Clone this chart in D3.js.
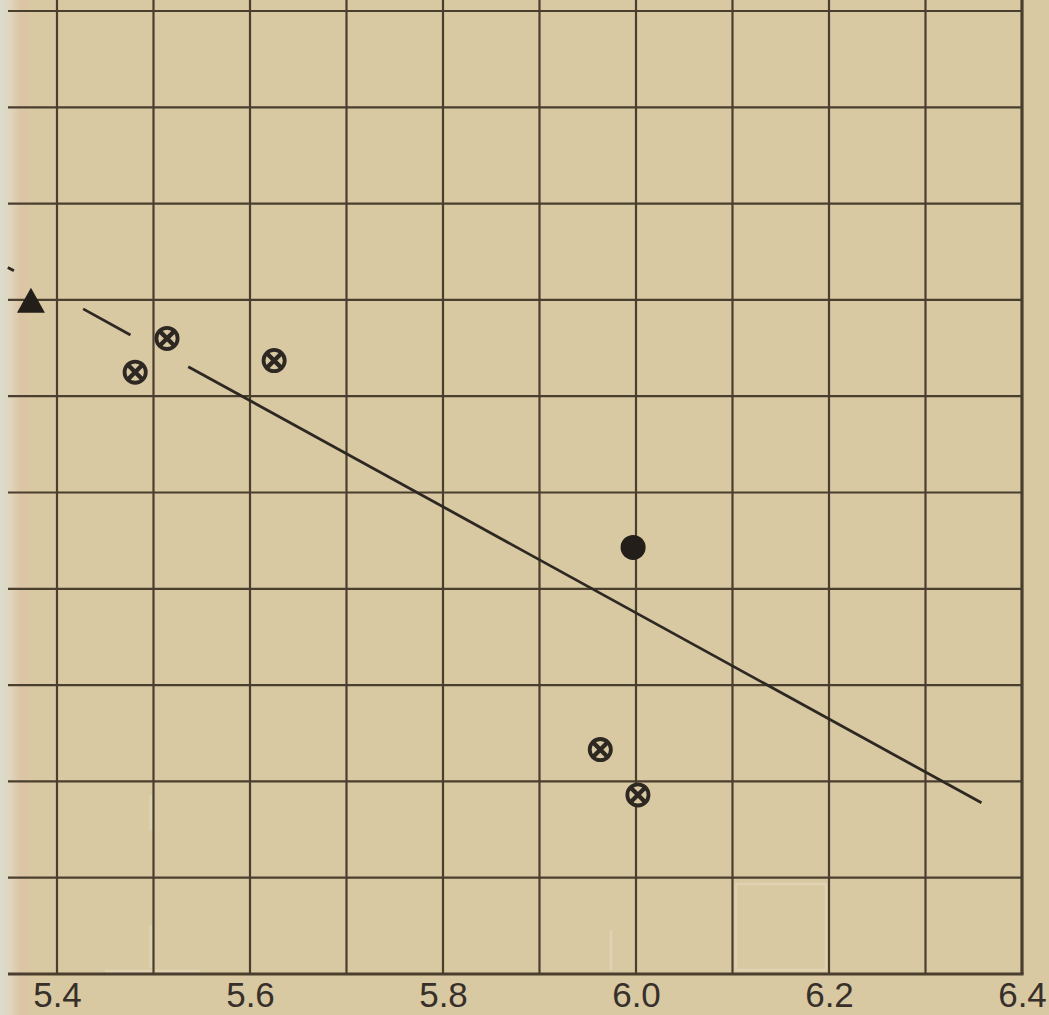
<!DOCTYPE html>
<html>
<head>
<meta charset="utf-8">
<script src="https://cdn.jsdelivr.net/npm/d3@7"></script>
<style>
  html, body { margin: 0; padding: 0; background: #d9c9a3; }
  svg { display: block; }
</style>
</head>
<body>
<svg id="chart" width="1049" height="1015"></svg>
<script>
// x-axis tick labels and grid steps
const xTickLabels = ["5.4", "5.6", "5.8", "6.0", "6.2", "6.4"];
const xGridValues = d3.range(0, 11).map(i => +(5.4 + i * 0.1).toFixed(1));
const yGridValues = d3.range(0, 11);

// observations: crossed circles, a filled circle, and a triangle
const crossedPoints = [
  { x: 5.481, y: 6.25 },
  { x: 5.514, y: 6.60 },
  { x: 5.625, y: 6.37 },
  { x: 5.963, y: 2.33 },
  { x: 6.002, y: 1.86 }
];
const filledPoints = [
  { x: 5.997, y: 4.43 }
];
const trianglePoints = [
  { x: 5.373, y: 6.98 }
];

// fitted line y = intercept + slope * x
const fitIntercept = 36.81;
const fitSlope = -5.51;
const fitSolidRange = [5.536, 6.358];
const fitDashedRange = [5.349, 5.536];

const svg = d3.select("#chart");
const W = 1049, H = 1015;

const x = d3.scaleLinear().domain([5.4, 6.4]).range([57, 1022]);
const y = d3.scaleLinear().domain([0, 10]).range([974, 11]);

const paper = "#d9c9a3";
const ink = "#4a3e2f";
const dark = "#2e2822";

// paper edge on the left
const defs = svg.append("defs");
const edge = defs.append("linearGradient").attr("id", "edge")
  .attr("x1", 0).attr("x2", 1).attr("y1", 0).attr("y2", 0);
edge.append("stop").attr("offset", "0%").attr("stop-color", "#dcdccf");
edge.append("stop").attr("offset", "30%").attr("stop-color", "#dfd6bd");
edge.append("stop").attr("offset", "60%").attr("stop-color", "#dcc4a4");
edge.append("stop").attr("offset", "100%").attr("stop-color", paper);

svg.append("rect").attr("width", W).attr("height", H).attr("fill", paper);
svg.append("rect").attr("x", 0).attr("y", 0).attr("width", 34).attr("height", H)
  .attr("fill", "url(#edge)");

// faint show-through from the reverse side of the sheet
const ghost = svg.append("g").attr("stroke", "#e6dbbd").attr("fill", "none")
  .attr("stroke-width", 3).attr("opacity", 0.55);
ghost.append("line").attr("x1", 151).attr("x2", 151).attr("y1", 795).attr("y2", 830);
ghost.append("line").attr("x1", 151).attr("x2", 151).attr("y1", 925).attr("y2", 968);
ghost.append("line").attr("x1", 105).attr("x2", 200).attr("y1", 971).attr("y2", 971);
ghost.append("line").attr("x1", 611).attr("x2", 611).attr("y1", 930).attr("y2", 970);
ghost.append("rect").attr("x", 736).attr("y", 884).attr("width", 90).attr("height", 86)
  .attr("stroke-width", 2.5);

// grid
const grid = svg.append("g").attr("stroke", ink).attr("stroke-width", 2.2);
grid.selectAll("line.v").data(xGridValues.slice(0, -1)).join("line")
  .attr("class", "v")
  .attr("x1", d => x(d)).attr("x2", d => x(d))
  .attr("y1", 0).attr("y2", y(0));
grid.selectAll("line.h").data(yGridValues.slice(1)).join("line")
  .attr("class", "h")
  .attr("x1", 8).attr("x2", x(6.4))
  .attr("y1", d => y(d)).attr("y2", d => y(d));

// frame: bottom axis and right edge
svg.append("line").attr("x1", 8).attr("x2", x(6.4) + 1.6)
  .attr("y1", y(0)).attr("y2", y(0))
  .attr("stroke", ink).attr("stroke-width", 2.8);
svg.append("line").attr("x1", x(6.4)).attr("x2", x(6.4))
  .attr("y1", 0).attr("y2", y(0))
  .attr("stroke", ink).attr("stroke-width", 3.2);

// x tick labels
const xAxis = d3.axisBottom(x)
  .tickValues(xTickLabels.map(Number))
  .tickFormat((d, i) => xTickLabels[i])
  .tickSize(0)
  .tickPadding(0);
const axisG = svg.append("g").attr("transform", `translate(0, ${y(0)})`).call(xAxis);
axisG.select(".domain").remove();
axisG.attr("font-family", null).attr("font-size", null);
axisG.selectAll("text")
  .attr("dy", null)
  .attr("y", 33)
  .attr("font-family", "'Liberation Sans', Arial, sans-serif")
  .attr("font-size", 35)
  .attr("fill", "#37302a");

// fitted line
const fit = v => fitIntercept + fitSlope * v;
const lineGen = d3.line().x(d => x(d)).y(d => y(fit(d)));
svg.append("path").datum(fitSolidRange)
  .attr("d", lineGen).attr("fill", "none")
  .attr("stroke", dark).attr("stroke-width", 2.8);
svg.append("path").datum(fitDashedRange)
  .attr("d", lineGen).attr("fill", "none")
  .attr("stroke", dark).attr("stroke-width", 2.8)
  .attr("stroke-dasharray", "7 79 54 80");

// crossed circles
const cross = svg.append("g");
const cg = cross.selectAll("g").data(crossedPoints).join("g")
  .attr("transform", d => `translate(${x(d.x)},${y(d.y)})`);
cg.append("circle").attr("r", 10.6)
  .attr("fill", paper).attr("stroke", dark).attr("stroke-width", 3.8);
const k = 6.6;
cg.append("path").attr("d", `M${-k},${-k}L${k},${k}M${k},${-k}L${-k},${k}`)
  .attr("stroke", dark).attr("stroke-width", 4.4);

// filled circle
svg.append("g").selectAll("circle").data(filledPoints).join("circle")
  .attr("cx", d => x(d.x)).attr("cy", d => y(d.y)).attr("r", 12.5)
  .attr("fill", "#231e1a");

// triangle
svg.append("g").selectAll("path").data(trianglePoints).join("path")
  .attr("transform", d => `translate(${x(d.x)},${y(d.y)})`)
  .attr("d", "M0,-14L14,11L-14,11Z")
  .attr("fill", "#231e1a");
</script>
</body>
</html>
